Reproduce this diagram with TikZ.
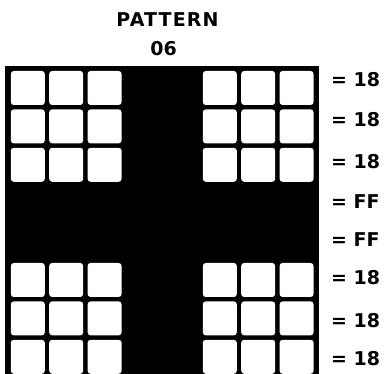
\documentclass[tikz,border=0pt]{standalone}
\usepackage{fontspec}
\setmainfont{DejaVu Sans}
\begin{document}
\begin{tikzpicture}[x=1pt,y=-1pt,
  cell/.style={fill=white,rounded corners=3pt},
  txt/.style={font=\bfseries\fontsize{19}{22}\selectfont,inner sep=0pt},
  lbl/.style={txt,anchor=west}]
\useasboundingbox (0,0) rectangle (392,374);
\fill[black] (5,66) rectangle (319,374);
\foreach \i in {0,1,2,5,6,7}
  \foreach \j in {0,1,2,5,6,7}
    \fill[cell] ({8.6+38.4*\i+2.2},{68.8+38.4*\j+2.2}) rectangle ++(34,34);
\node[txt] (title) at (167.5,20) {\addfontfeature{LetterSpace=6}PATTERN};
\node[txt] (num) at (163.5,48.5) {06};
\node[lbl] (r1) at (331,80) {= 18};
\node[lbl] (r2) at (331,120) {= 18};
\node[lbl] (r3) at (331,162) {= 18};
\node[lbl] (r4) at (331,202) {= FF};
\node[lbl] (r5) at (331,240) {= FF};
\node[lbl] (r6) at (331,278) {= 18};
\node[lbl] (r7) at (331,321) {= 18};
\node[lbl] (r8) at (331,359) {= 18};
\end{tikzpicture}
\end{document}
